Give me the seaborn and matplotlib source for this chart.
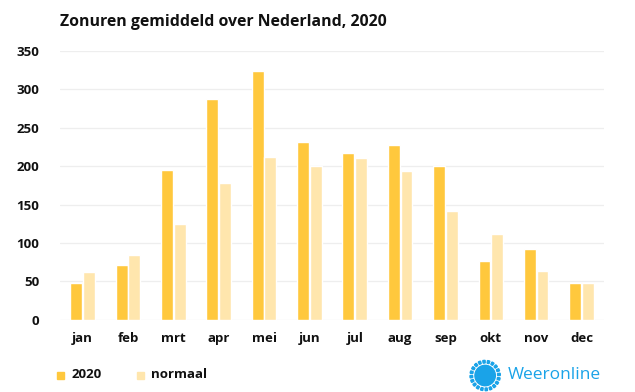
import numpy as np
import pandas as pd
import matplotlib
matplotlib.use("Agg")
import matplotlib.pyplot as plt
import seaborn as sns
from matplotlib.patches import Circle, Wedge

# data (zonuren per maand)
months = ["jan", "feb", "mrt", "apr", "mei", "jun", "jul", "aug", "sep", "okt", "nov", "dec"]
hours_2020 = [48, 71, 195, 287, 324, 232, 217, 228, 200, 77, 92, 48]
hours_normal = [62, 85, 125, 178, 212, 200, 211, 194, 142, 112, 63, 48]
series = ["2020", "normaal"]
colors = ["#FFC83D", "#FFE6AD"]

df = pd.DataFrame({
    "maand": months * 2,
    "zonuren": hours_2020 + hours_normal,
    "reeks": [series[0]] * 12 + [series[1]] * 12,
})

sns.set_style("white")
plt.rcParams["font.family"] = ["Open Sans", "DejaVu Sans"]

fig = plt.figure(figsize=(6.35, 3.92), dpi=100)
ax = fig.add_axes([0.0945, 0.184, 0.857, 0.686])

sns.barplot(data=df, x="maand", y="zonuren", hue="reeks", palette=colors,
            width=0.56, gap=0.06, ax=ax, legend=False, saturation=1)

ax.set_ylim(0, 350)
ax.set_yticks(np.arange(0, 351, 50))
ax.set_xlim(-0.5, 11.5)
ax.yaxis.grid(True, color="#EEEEEE", linewidth=0.9)
ax.set_axisbelow(True)
sns.despine(ax=ax, left=True, bottom=True)
ax.set_xlabel("")
ax.set_ylabel("")
ax.tick_params(axis="both", length=0, labelsize=9.5)
ax.tick_params(axis="y", pad=15)
ax.tick_params(axis="x", pad=9)
for lab in ax.get_xticklabels() + ax.get_yticklabels():
    lab.set_fontweight("bold")
    lab.set_color("#111111")

fig.text(0.0945, 0.945, "Zonuren gemiddeld over Nederland, 2020", fontsize=11.4,
         fontweight="bold", color="#111111", va="center")

# legend
legend_x = [0.0898, 0.2157]
for x0, name, col in zip(legend_x, series, colors):
    fig.patches.append(plt.Rectangle((x0, 0.033), 0.011, 0.018, color=col,
                                     transform=fig.transFigure, figure=fig))
    fig.text(x0 + 0.0225, 0.044, name, fontsize=9.5, fontweight="bold",
             color="#111111", va="center")

# logo
logo_ax = fig.add_axes([0.738, 0.0, 0.052, 0.084])
logo_ax.set_xlim(-1, 1)
logo_ax.set_ylim(-1, 1)
logo_ax.set_aspect("equal")
logo_ax.axis("off")
blue = "#1AA3E8"
logo_ax.add_patch(Circle((0, 0), 0.62, color=blue))
for a in range(0, 360, 18):
    logo_ax.add_patch(Wedge((0, 0), 0.92, a, a + 9, width=0.16, color=blue))
fig.text(0.8, 0.044, "Weeronline", fontsize=12.5, color=blue, va="center")

fig.savefig("out.png", dpi=100)
